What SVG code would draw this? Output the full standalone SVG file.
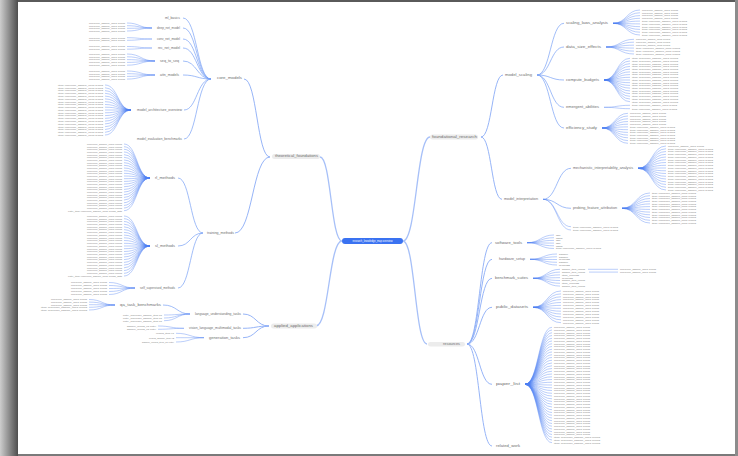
<svg xmlns="http://www.w3.org/2000/svg" xmlns:xlink="http://www.w3.org/1999/xlink" width="738" height="456" viewBox="0 0 738 456">
<style>
.lb{font-family:"Liberation Sans",Arial,sans-serif;font-size:2.6px;fill:#6e6e6e}
.lf{font-family:"Liberation Sans",Arial,sans-serif;font-size:2.4px;fill:#7c7c7c}
.e1{fill:none;stroke:#a7c0f8;stroke-width:1.3}
.e2{fill:none;stroke:#8aacf6;stroke-width:0.9}
.e3{fill:none;stroke:#79a0f5;stroke-width:0.7}
.fan{fill:none;stroke:#4b7ff3;stroke-width:0.45;stroke-opacity:0.85}
.pill{fill:#ececec}
</style>
<defs>
<linearGradient id="gl" x1="0" y1="0" x2="1" y2="0"><stop offset="0" stop-color="#cdcdcd"/><stop offset="1" stop-color="#4e4e4e"/></linearGradient>
<text id="L15" class="lf" y="0.85" text-anchor="end" textLength="18" lengthAdjust="spacingAndGlyphs">record_item v1</text>
<text id="L25" class="lf" y="0.85" text-anchor="end" textLength="25" lengthAdjust="spacingAndGlyphs">record_sample_item v2</text>
<text id="L29" class="lf" y="0.85" text-anchor="end" textLength="29" lengthAdjust="spacingAndGlyphs">sample_record_01 entry</text>
<text id="L32" class="lf" y="0.85" text-anchor="end" textLength="32" lengthAdjust="spacingAndGlyphs">sample_record_item_01 entry</text>
<text id="L35" class="lf" y="0.85" text-anchor="end" textLength="35" lengthAdjust="spacingAndGlyphs">reference_sample_0001 record</text>
<text id="L36" class="lf" y="0.85" text-anchor="end" textLength="36" lengthAdjust="spacingAndGlyphs">reference_sample_0001 record</text>
<text id="L39" class="lf" y="0.85" text-anchor="end" textLength="39" lengthAdjust="spacingAndGlyphs">entry_reference_sample_item 01</text>
<text id="L45" class="lf" y="0.85" text-anchor="end" textLength="45" lengthAdjust="spacingAndGlyphs">item: reference_sample_0001 record</text>
<text id="L46" class="lf" y="0.85" text-anchor="end" textLength="46" lengthAdjust="spacingAndGlyphs">item: reference_sample_0001 record</text>
<text id="L54" class="lf" y="0.85" text-anchor="end" textLength="54" lengthAdjust="spacingAndGlyphs">entry_item: reference_sample_0001 record_data</text>
<text id="R4" class="lf" y="0.85" textLength="4.5" lengthAdjust="spacingAndGlyphs">abc</text>
<text id="R6" class="lf" y="0.85" textLength="6.5" lengthAdjust="spacingAndGlyphs">abcd</text>
<text id="R9" class="lf" y="0.85" textLength="9" lengthAdjust="spacingAndGlyphs">sample</text>
<text id="R11" class="lf" y="0.85" textLength="11" lengthAdjust="spacingAndGlyphs">records</text>
<text id="R17" class="lf" y="0.85" textLength="17" lengthAdjust="spacingAndGlyphs">item_records</text>
<text id="R23" class="lf" y="0.85" textLength="23" lengthAdjust="spacingAndGlyphs">sample_item_record</text>
<text id="R34" class="lf" y="0.85" textLength="34" lengthAdjust="spacingAndGlyphs">reference_sample_0001 record</text>
<text id="R36" class="lf" y="0.85" textLength="36" lengthAdjust="spacingAndGlyphs">reference_sample_0001 record</text>
<text id="R44" class="lf" y="0.85" textLength="44" lengthAdjust="spacingAndGlyphs">item: reference_sample_0001 record</text>
<text id="R45" class="lf" y="0.85" textLength="45" lengthAdjust="spacingAndGlyphs">item: reference_sample_0001 record</text>
<text id="R46" class="lf" y="0.85" textLength="46" lengthAdjust="spacingAndGlyphs">item: reference_sample_0001 record</text>
</defs>

<rect x="0" y="0" width="738" height="456" fill="#7a7a7a"/>
<rect x="0" y="0" width="18" height="456" fill="url(#gl)"/>
<rect x="18" y="0" width="720" height="2.5" fill="#5a5a5a"/>
<rect x="735" y="0" width="3" height="456" fill="#8c8c8c"/>
<rect x="18" y="2" width="717" height="452" fill="#ffffff"/>

<g id="connectors">
<path class="e1" d="M342 241C331 241 331 157 320 157M342 241C329 241 329 326 316 326M403 241C416.5 241 416.5 137 430 137M403 241C415 241 415 344 427 344"/>
<path class="e2" d="M270 157C257 157 257 79 244 79M270 157C252.5 157 252.5 233 235 233M269 326C256 326 256 314 243 314M269 326C256 326 256 328.3 243 328.3M269 326C256 326 256 337.7 243 337.7M481 137C492 137 492 75 503 75M481 137C491.5 137 491.5 199.3 502 199.3M467 344C479.5 344 479.5 242.7 492 242.7M467 344C479.5 344 479.5 259.3 492 259.3M467 344C479.5 344 479.5 278.3 492 278.3M467 344C479.5 344 479.5 307.3 492 307.3M467 344C479.5 344 479.5 384.3 492 384.3M467 344C479.5 344 479.5 446 492 446"/>
<path class="e3" d="M211 79C197 79 197 18 183 18M211 79C197 79 197 28 183 28M211 79C197 79 197 39 183 39M211 79C197 79 197 48 183 48M211 79C197 79 197 61 183 61M211 79C197 79 197 75 183 75M211 79C197 79 197 110 184 110M211 79C197 79 197 139 184 139M203 233C190.5 233 190.5 178 178 178M203 233C190.5 233 190.5 246 178 246M203 233C190.5 233 190.5 288 178 288M190 314C177 314 177 305 163 305M537 75C550.5 75 550.5 23.3 564 23.3M537 75C550.5 75 550.5 47 564 47M537 75C550.5 75 550.5 80 564 80M537 75C550.5 75 550.5 107.3 564 107.3M537 75C550.5 75 550.5 128 564 128M543 199.3C557 199.3 557 168.3 571 168.3M543 199.3C557 199.3 557 208.3 571 208.3"/>
<path class="fan" d="M543 199.3C557 199.3 557 226.7 571 226.7M543 199.3C557 199.3 557 230 571 230M190 314C177 314 177 315 164 315M190 314C177 314 177 318 164 318M190 314C177 314 177 320.7 164 320.7"/>
<path class="fan" d="M152 28C139.5 28 139.5 23 127 23M152 28C139.5 28 139.5 25.7 127 25.7M152 28C139.5 28 139.5 28.3 127 28.3M152 28C139.5 28 139.5 31 127 31M152 39C139.5 39 139.5 37.7 127 37.7M152 39C139.5 39 139.5 40.3 127 40.3M152 48C139.5 48 139.5 46.5 127 46.5M152 48C139.5 48 139.5 49.2 127 49.2M155 61C141 61 141 54 127 54M155 61C141 61 141 56.8 127 56.8M155 61C141 61 141 59.6 127 59.6M155 61C141 61 141 62.4 127 62.4M155 61C141 61 141 65.2 127 65.2M155 75C141 75 141 71 127 71M155 75C141 75 141 73.7 127 73.7M155 75C141 75 141 76.4 127 76.4M155 75C141 75 141 79.1 127 79.1"/>
<path class="fan" d="M131 110C118 110 118 85 105 85M131 110C118 110 118 87.8 105 87.8M131 110C118 110 118 90.6 105 90.6M131 110C118 110 118 93.3 105 93.3M131 110C118 110 118 96.1 105 96.1M131 110C118 110 118 98.9 105 98.9M131 110C118 110 118 101.7 105 101.7M131 110C118 110 118 104.5 105 104.5M131 110C118 110 118 107.2 105 107.2M131 110C118 110 118 110 105 110M131 110C118 110 118 112.8 105 112.8M131 110C118 110 118 115.6 105 115.6M131 110C118 110 118 118.4 105 118.4M131 110C118 110 118 121.1 105 121.1M131 110C118 110 118 123.9 105 123.9M131 110C118 110 118 126.7 105 126.7M131 110C118 110 118 129.5 105 129.5M131 110C118 110 118 132.3 105 132.3M131 110C118 110 118 135 105 135"/>
<path class="fan" d="M150 178C137 178 137 144 124 144M150 178C137 178 137 146.7 124 146.7M150 178C137 178 137 149.3 124 149.3M150 178C137 178 137 152 124 152M150 178C137 178 137 154.7 124 154.7M150 178C137 178 137 157.3 124 157.3M150 178C137 178 137 160 124 160M150 178C137 178 137 162.7 124 162.7M150 178C137 178 137 165.3 124 165.3M150 178C137 178 137 168 124 168M150 178C137 178 137 170.7 124 170.7M150 178C137 178 137 173.3 124 173.3M150 178C137 178 137 176 124 176M150 178C137 178 137 178.7 124 178.7M150 178C137 178 137 181.4 124 181.4M150 178C137 178 137 184 124 184M150 178C137 178 137 186.7 124 186.7M150 178C137 178 137 189.4 124 189.4M150 178C137 178 137 192 124 192M150 178C137 178 137 194.7 124 194.7M150 178C137 178 137 197.4 124 197.4M150 178C137 178 137 200 124 200M150 178C137 178 137 202.7 124 202.7M150 178C137 178 137 205.4 124 205.4M150 178C137 178 137 208 124 208M150 178C137 178 137 210.7 124 210.7"/>
<path class="fan" d="M150 246C137 246 137 216 124 216M150 246C137 246 137 218.7 124 218.7M150 246C137 246 137 221.5 124 221.5M150 246C137 246 137 224.2 124 224.2M150 246C137 246 137 226.9 124 226.9M150 246C137 246 137 229.6 124 229.6M150 246C137 246 137 232.4 124 232.4M150 246C137 246 137 235.1 124 235.1M150 246C137 246 137 237.8 124 237.8M150 246C137 246 137 240.5 124 240.5M150 246C137 246 137 243.3 124 243.3M150 246C137 246 137 246 124 246M150 246C137 246 137 248.7 124 248.7M150 246C137 246 137 251.5 124 251.5M150 246C137 246 137 254.2 124 254.2M150 246C137 246 137 256.9 124 256.9M150 246C137 246 137 259.6 124 259.6M150 246C137 246 137 262.4 124 262.4M150 246C137 246 137 265.1 124 265.1M150 246C137 246 137 267.8 124 267.8M150 246C137 246 137 270.5 124 270.5M150 246C137 246 137 273.3 124 273.3M150 246C137 246 137 276 124 276"/>
<path class="fan" d="M135 288C122 288 122 282.5 109 282.5M135 288C122 288 122 285.5 109 285.5M135 288C122 288 122 288.5 109 288.5M135 288C122 288 122 291.5 109 291.5M135 288C122 288 122 294.5 109 294.5M115 305C102 305 102 299.5 89 299.5M115 305C102 305 102 302.1 89 302.1M115 305C102 305 102 304.7 89 304.7M115 305C102 305 102 307.3 89 307.3M115 305C102 305 102 310 89 310M184 328.3C171 328.3 171 326 158 326M184 328.3C171 328.3 171 329.3 158 329.3M204 337.7C190 337.7 190 333.3 176 333.3M204 337.7C190 337.7 190 337.7 176 337.7M204 337.7C190 337.7 190 342 176 342"/>
<path class="fan" d="M613 23.3C626.5 23.3 626.5 10 640 10M613 23.3C626.5 23.3 626.5 12.8 640 12.8M613 23.3C626.5 23.3 626.5 15.6 640 15.6M613 23.3C626.5 23.3 626.5 18.3 640 18.3M613 23.3C626.5 23.3 626.5 21.1 640 21.1M613 23.3C626.5 23.3 626.5 23.9 640 23.9M613 23.3C626.5 23.3 626.5 26.7 640 26.7M613 23.3C626.5 23.3 626.5 29.4 640 29.4M613 23.3C626.5 23.3 626.5 32.2 640 32.2M613 23.3C626.5 23.3 626.5 35 640 35M606 47C620 47 620 39.3 634 39.3M606 47C620 47 620 42.2 634 42.2M606 47C620 47 620 45.2 634 45.2M606 47C620 47 620 48.1 634 48.1M606 47C620 47 620 51.1 634 51.1M606 47C620 47 620 54 634 54"/>
<path class="fan" d="M604 80C617 80 617 58.3 630 58.3M604 80C617 80 617 61 630 61M604 80C617 80 617 63.7 630 63.7M604 80C617 80 617 66.4 630 66.4M604 80C617 80 617 69.2 630 69.2M604 80C617 80 617 71.9 630 71.9M604 80C617 80 617 74.6 630 74.6M604 80C617 80 617 77.3 630 77.3M604 80C617 80 617 80 630 80M604 80C617 80 617 82.7 630 82.7M604 80C617 80 617 85.4 630 85.4M604 80C617 80 617 88.1 630 88.1M604 80C617 80 617 90.9 630 90.9M604 80C617 80 617 93.6 630 93.6M604 80C617 80 617 96.3 630 96.3M604 80C617 80 617 99 630 99M604 80C617 80 617 101.7 630 101.7M604 107.3C617 107.3 617 105.3 630 105.3M604 107.3C617 107.3 617 108.7 630 108.7"/>
<path class="fan" d="M602 128C615 128 615 113.3 628 113.3M602 128C615 128 615 116 628 116M602 128C615 128 615 118.8 628 118.8M602 128C615 128 615 121.5 628 121.5M602 128C615 128 615 124.2 628 124.2M602 128C615 128 615 126.9 628 126.9M602 128C615 128 615 129.7 628 129.7M602 128C615 128 615 132.4 628 132.4M602 128C615 128 615 135.1 628 135.1M602 128C615 128 615 137.8 628 137.8M602 128C615 128 615 140.6 628 140.6M602 128C615 128 615 143.3 628 143.3"/>
<path class="fan" d="M638 168.3C652 168.3 652 146 666 146M638 168.3C652 168.3 652 148.8 666 148.8M638 168.3C652 168.3 652 151.5 666 151.5M638 168.3C652 168.3 652 154.3 666 154.3M638 168.3C652 168.3 652 157 666 157M638 168.3C652 168.3 652 159.8 666 159.8M638 168.3C652 168.3 652 162.5 666 162.5M638 168.3C652 168.3 652 165.3 666 165.3M638 168.3C652 168.3 652 168 666 168M638 168.3C652 168.3 652 170.8 666 170.8M638 168.3C652 168.3 652 173.5 666 173.5M638 168.3C652 168.3 652 176.3 666 176.3M638 168.3C652 168.3 652 179 666 179M638 168.3C652 168.3 652 181.8 666 181.8M638 168.3C652 168.3 652 184.5 666 184.5M638 168.3C652 168.3 652 187.3 666 187.3M638 168.3C652 168.3 652 190 666 190"/>
<path class="fan" d="M622 208.3C636 208.3 636 193 650 193M622 208.3C636 208.3 636 195.7 650 195.7M622 208.3C636 208.3 636 198.5 650 198.5M622 208.3C636 208.3 636 201.2 650 201.2M622 208.3C636 208.3 636 203.9 650 203.9M622 208.3C636 208.3 636 206.6 650 206.6M622 208.3C636 208.3 636 209.4 650 209.4M622 208.3C636 208.3 636 212.1 650 212.1M622 208.3C636 208.3 636 214.8 650 214.8M622 208.3C636 208.3 636 217.5 650 217.5M622 208.3C636 208.3 636 220.3 650 220.3M622 208.3C636 208.3 636 223 650 223"/>
<path class="fan" d="M527 242.7C540.5 242.7 540.5 235 554 235M527 242.7C540.5 242.7 540.5 237.7 554 237.7M527 242.7C540.5 242.7 540.5 240.4 554 240.4M527 242.7C540.5 242.7 540.5 243.1 554 243.1M527 242.7C540.5 242.7 540.5 245.8 554 245.8M527 242.7C540.5 242.7 540.5 248.5 554 248.5M530 259.3C543.5 259.3 543.5 254 557 254M530 259.3C543.5 259.3 543.5 256.8 557 256.8M530 259.3C543.5 259.3 543.5 259.5 557 259.5M530 259.3C543.5 259.3 543.5 262.3 557 262.3M530 259.3C543.5 259.3 543.5 265 557 265M533 278.3C546.5 278.3 546.5 269.3 560 269.3M533 278.3C546.5 278.3 546.5 272.1 560 272.1M533 278.3C546.5 278.3 546.5 274.9 560 274.9M533 278.3C546.5 278.3 546.5 277.7 560 277.7M533 278.3C546.5 278.3 546.5 280.5 560 280.5M533 278.3C546.5 278.3 546.5 283.3 560 283.3M533 278.3C546.5 278.3 546.5 286.1 560 286.1M588 269.3H618M589 272.1H618"/>
<path class="fan" d="M533 307.3C547 307.3 547 291 561 291M533 307.3C547 307.3 547 293.9 561 293.9M533 307.3C547 307.3 547 296.8 561 296.8M533 307.3C547 307.3 547 299.6 561 299.6M533 307.3C547 307.3 547 302.5 561 302.5M533 307.3C547 307.3 547 305.4 561 305.4M533 307.3C547 307.3 547 308.3 561 308.3M533 307.3C547 307.3 547 311.2 561 311.2M533 307.3C547 307.3 547 314 561 314M533 307.3C547 307.3 547 316.9 561 316.9M533 307.3C547 307.3 547 319.8 561 319.8M533 307.3C547 307.3 547 322.7 561 322.7"/>
<path class="fan" d="M525 384.3C538.5 384.3 538.5 327.3 552 327.3M525 384.3C538.5 384.3 538.5 330 552 330M525 384.3C538.5 384.3 538.5 332.8 552 332.8M525 384.3C538.5 384.3 538.5 335.5 552 335.5M525 384.3C538.5 384.3 538.5 338.3 552 338.3M525 384.3C538.5 384.3 538.5 341 552 341M525 384.3C538.5 384.3 538.5 343.8 552 343.8M525 384.3C538.5 384.3 538.5 346.5 552 346.5M525 384.3C538.5 384.3 538.5 349.3 552 349.3M525 384.3C538.5 384.3 538.5 352 552 352M525 384.3C538.5 384.3 538.5 354.8 552 354.8M525 384.3C538.5 384.3 538.5 357.5 552 357.5M525 384.3C538.5 384.3 538.5 360.3 552 360.3M525 384.3C538.5 384.3 538.5 363 552 363M525 384.3C538.5 384.3 538.5 365.8 552 365.8M525 384.3C538.5 384.3 538.5 368.5 552 368.5M525 384.3C538.5 384.3 538.5 371.3 552 371.3M525 384.3C538.5 384.3 538.5 374 552 374M525 384.3C538.5 384.3 538.5 376.8 552 376.8M525 384.3C538.5 384.3 538.5 379.5 552 379.5M525 384.3C538.5 384.3 538.5 382.3 552 382.3M525 384.3C538.5 384.3 538.5 385 552 385M525 384.3C538.5 384.3 538.5 387.8 552 387.8M525 384.3C538.5 384.3 538.5 390.5 552 390.5M525 384.3C538.5 384.3 538.5 393.3 552 393.3M525 384.3C538.5 384.3 538.5 396 552 396M525 384.3C538.5 384.3 538.5 398.8 552 398.8M525 384.3C538.5 384.3 538.5 401.5 552 401.5M525 384.3C538.5 384.3 538.5 404.2 552 404.2M525 384.3C538.5 384.3 538.5 407 552 407M525 384.3C538.5 384.3 538.5 409.7 552 409.7M525 384.3C538.5 384.3 538.5 412.5 552 412.5M525 384.3C538.5 384.3 538.5 415.2 552 415.2M525 384.3C538.5 384.3 538.5 418 552 418M525 384.3C538.5 384.3 538.5 420.7 552 420.7M525 384.3C538.5 384.3 538.5 423.5 552 423.5M525 384.3C538.5 384.3 538.5 426.2 552 426.2M525 384.3C538.5 384.3 538.5 429 552 429M525 384.3C538.5 384.3 538.5 431.7 552 431.7M525 384.3C538.5 384.3 538.5 434.5 552 434.5M525 384.3C538.5 384.3 538.5 437.2 552 437.2M525 384.3C538.5 384.3 538.5 440 552 440M525 384.3C538.5 384.3 538.5 442.7 552 442.7"/>
</g>

<g id="root">
<rect x="342" y="238" width="61" height="6" rx="3" fill="#3a72f1"/>
<text x="372.5" y="242" font-family="Liberation Sans, Arial, sans-serif" font-size="3" fill="#ffffff" text-anchor="middle" textLength="40" lengthAdjust="spacingAndGlyphs">research_knowledge_map overview</text>
</g>

<g id="n-l1"><rect class="pill" x="272" y="154" width="48" height="5" rx="2.5"/><text class="lb" x="318" y="157" text-anchor="end" textLength="43" lengthAdjust="spacingAndGlyphs">theoretical_foundations</text></g>
<g id="n-a"><text class="lb" x="242" y="79" text-anchor="end" textLength="25" lengthAdjust="spacingAndGlyphs">core_models</text></g>
<g id="n-a1"><text class="lb" x="180" y="19" text-anchor="end" textLength="15" lengthAdjust="spacingAndGlyphs">ml_basics</text></g>
<g id="n-a2"><text class="lb" x="180" y="29" text-anchor="end" textLength="23" lengthAdjust="spacingAndGlyphs">deep_net_model</text>
<use href="#L36" x="125" y="23"/><use href="#L36" x="125" y="25.7"/><use href="#L36" x="125" y="28.3"/><use href="#L36" x="125" y="31"/></g>
<g id="n-a3"><text class="lb" x="180" y="40" text-anchor="end" textLength="23" lengthAdjust="spacingAndGlyphs">conv_net_model</text>
<use href="#L36" x="125" y="37.7"/><use href="#L36" x="125" y="40.3"/></g>
<g id="n-a4"><text class="lb" x="180" y="49" text-anchor="end" textLength="22" lengthAdjust="spacingAndGlyphs">rec_net_model</text>
<use href="#L36" x="125" y="46.5"/><use href="#L36" x="125" y="49.2"/></g>
<g id="n-a5"><text class="lb" x="179" y="62" text-anchor="end" textLength="19" lengthAdjust="spacingAndGlyphs">seq_to_seq</text>
<use href="#L36" x="125" y="54"/><use href="#L36" x="125" y="56.8"/><use href="#L36" x="125" y="59.6"/><use href="#L36" x="125" y="62.4"/><use href="#L36" x="125" y="65.2"/></g>
<g id="n-a6"><text class="lb" x="179" y="76" text-anchor="end" textLength="19" lengthAdjust="spacingAndGlyphs">attn_models</text>
<use href="#L36" x="125" y="71"/><use href="#L36" x="125" y="73.7"/><use href="#L36" x="125" y="76.4"/><use href="#L36" x="125" y="79.1"/></g>
<g id="n-a7"><text class="lb" x="182" y="111" text-anchor="end" textLength="45" lengthAdjust="spacingAndGlyphs">model_architecture_overview</text>
<use href="#L45" x="103" y="85"/><use href="#L45" x="103" y="87.8"/><use href="#L45" x="103" y="90.6"/><use href="#L45" x="103" y="93.3"/><use href="#L45" x="103" y="96.1"/><use href="#L45" x="103" y="98.9"/><use href="#L45" x="103" y="101.7"/><use href="#L45" x="103" y="104.5"/><use href="#L45" x="103" y="107.2"/><use href="#L45" x="103" y="110"/><use href="#L45" x="103" y="112.8"/><use href="#L45" x="103" y="115.6"/><use href="#L45" x="103" y="118.4"/><use href="#L45" x="103" y="121.1"/><use href="#L45" x="103" y="123.9"/><use href="#L45" x="103" y="126.7"/><use href="#L45" x="103" y="129.5"/><use href="#L45" x="103" y="132.3"/><use href="#L45" x="103" y="135"/></g>
<g id="n-a8"><text class="lb" x="182" y="140" text-anchor="end" textLength="45" lengthAdjust="spacingAndGlyphs">model_evaluation_benchmarks</text></g>

<g id="n-b"><text class="lb" x="234" y="234" text-anchor="end" textLength="27" lengthAdjust="spacingAndGlyphs">training_methods</text></g>
<g id="n-b1"><text class="lb" x="175" y="179" text-anchor="end" textLength="20" lengthAdjust="spacingAndGlyphs">rl_methods</text>
<use href="#L35" x="122" y="144"/><use href="#L35" x="122" y="146.7"/><use href="#L35" x="122" y="149.3"/><use href="#L35" x="122" y="152"/><use href="#L35" x="122" y="154.7"/><use href="#L35" x="122" y="157.3"/><use href="#L35" x="122" y="160"/><use href="#L35" x="122" y="162.7"/><use href="#L35" x="122" y="165.3"/><use href="#L35" x="122" y="168"/><use href="#L35" x="122" y="170.7"/><use href="#L35" x="122" y="173.3"/><use href="#L35" x="122" y="176"/><use href="#L35" x="122" y="178.7"/><use href="#L35" x="122" y="181.4"/><use href="#L35" x="122" y="184"/><use href="#L35" x="122" y="186.7"/><use href="#L35" x="122" y="189.4"/><use href="#L35" x="122" y="192"/><use href="#L35" x="122" y="194.7"/><use href="#L35" x="122" y="197.4"/><use href="#L35" x="122" y="200"/><use href="#L35" x="122" y="202.7"/><use href="#L35" x="122" y="205.4"/><use href="#L35" x="122" y="208"/><use href="#L54" x="122" y="210.7"/></g>
<g id="n-b2"><text class="lb" x="175" y="247" text-anchor="end" textLength="20" lengthAdjust="spacingAndGlyphs">sl_methods</text>
<use href="#L35" x="122" y="216"/><use href="#L35" x="122" y="218.7"/><use href="#L35" x="122" y="221.5"/><use href="#L35" x="122" y="224.2"/><use href="#L35" x="122" y="226.9"/><use href="#L35" x="122" y="229.6"/><use href="#L35" x="122" y="232.4"/><use href="#L35" x="122" y="235.1"/><use href="#L35" x="122" y="237.8"/><use href="#L35" x="122" y="240.5"/><use href="#L35" x="122" y="243.3"/><use href="#L35" x="122" y="246"/><use href="#L35" x="122" y="248.7"/><use href="#L35" x="122" y="251.5"/><use href="#L35" x="122" y="254.2"/><use href="#L35" x="122" y="256.9"/><use href="#L35" x="122" y="259.6"/><use href="#L35" x="122" y="262.4"/><use href="#L35" x="122" y="265.1"/><use href="#L35" x="122" y="267.8"/><use href="#L35" x="122" y="270.5"/><use href="#L35" x="122" y="273.3"/><use href="#L54" x="122" y="276"/></g>
<g id="n-b3"><text class="lb" x="175" y="289" text-anchor="end" textLength="35" lengthAdjust="spacingAndGlyphs">self_supervised_methods</text>
<use href="#L36" x="107" y="282.5"/><use href="#L36" x="107" y="285.5"/><use href="#L36" x="107" y="288.5"/><use href="#L36" x="107" y="291.5"/><use href="#L36" x="107" y="294.5"/></g>

<g id="n-l3"><rect class="pill" x="271" y="323.5" width="46" height="5" rx="2.5"/><text class="lb" x="313" y="327" text-anchor="end" textLength="39" lengthAdjust="spacingAndGlyphs">applied_applications</text></g>
<g id="n-c1"><text class="lb" x="241" y="315" text-anchor="end" textLength="46" lengthAdjust="spacingAndGlyphs">language_understanding_tasks</text>
<use href="#L39" x="162" y="315"/><use href="#L39" x="162" y="318"/><use href="#L39" x="162" y="320.7"/></g>
<g id="n-c1a"><text class="lb" x="161" y="306" text-anchor="end" textLength="41" lengthAdjust="spacingAndGlyphs">qa_task_benchmarks</text>
<use href="#L36" x="87" y="299.5"/><use href="#L36" x="87" y="302.1"/><use href="#L36" x="87" y="304.7"/><use href="#L46" x="87" y="307.3"/><use href="#L46" x="87" y="310"/></g>
<g id="n-c2"><text class="lb" x="241" y="329.3" text-anchor="end" textLength="52" lengthAdjust="spacingAndGlyphs">vision_language_multimodal_tasks</text>
<use href="#L29" x="156" y="326"/><use href="#L29" x="156" y="329.3"/></g>
<g id="n-c3"><text class="lb" x="240" y="338.7" text-anchor="end" textLength="31" lengthAdjust="spacingAndGlyphs">generation_tasks</text>
<use href="#L15" x="174" y="333.3"/><use href="#L25" x="174" y="337.7"/><use href="#L32" x="174" y="342"/></g>

<g id="n-r1"><rect class="pill" x="430" y="134.5" width="48" height="5" rx="2.5"/><text class="lb" x="432" y="138" textLength="45" lengthAdjust="spacingAndGlyphs">foundational_research</text></g>
<g id="n-r1a"><text class="lb" x="505" y="76" textLength="27" lengthAdjust="spacingAndGlyphs">model_scaling</text></g>
<g id="n-r1a1"><text class="lb" x="566" y="24.3" textLength="42" lengthAdjust="spacingAndGlyphs">scaling_laws_analysis</text>
<use href="#R36" x="642" y="10"/><use href="#R36" x="642" y="12.8"/><use href="#R36" x="642" y="15.6"/><use href="#R36" x="642" y="18.3"/><use href="#R45" x="642" y="21.1"/><use href="#R45" x="642" y="23.9"/><use href="#R45" x="642" y="26.7"/><use href="#R45" x="642" y="29.4"/><use href="#R45" x="642" y="32.2"/><use href="#R45" x="642" y="35"/></g>
<g id="n-r1a2"><text class="lb" x="566" y="48" textLength="35" lengthAdjust="spacingAndGlyphs">data_size_effects</text>
<use href="#R34" x="636" y="39.3"/><use href="#R34" x="636" y="42.2"/><use href="#R34" x="636" y="45.2"/><use href="#R44" x="636" y="48.1"/><use href="#R44" x="636" y="51.1"/><use href="#R44" x="636" y="54"/></g>
<g id="n-r1a3"><text class="lb" x="566" y="81" textLength="33" lengthAdjust="spacingAndGlyphs">compute_budgets</text>
<use href="#R46" x="632" y="58.3"/><use href="#R46" x="632" y="61"/><use href="#R46" x="632" y="63.7"/><use href="#R46" x="632" y="66.4"/><use href="#R46" x="632" y="69.2"/><use href="#R46" x="632" y="71.9"/><use href="#R46" x="632" y="74.6"/><use href="#R46" x="632" y="77.3"/><use href="#R46" x="632" y="80"/><use href="#R46" x="632" y="82.7"/><use href="#R46" x="632" y="85.4"/><use href="#R46" x="632" y="88.1"/><use href="#R46" x="632" y="90.9"/><use href="#R46" x="632" y="93.6"/><use href="#R46" x="632" y="96.3"/><use href="#R46" x="632" y="99"/><use href="#R46" x="632" y="101.7"/></g>
<g id="n-r1a4"><text class="lb" x="566" y="108.3" textLength="33" lengthAdjust="spacingAndGlyphs">emergent_abilities</text>
<use href="#R45" x="632" y="105.3"/><use href="#R45" x="632" y="108.7"/></g>
<g id="n-r1a5"><text class="lb" x="566" y="129" textLength="31" lengthAdjust="spacingAndGlyphs">efficiency_study</text>
<use href="#R36" x="630" y="113.3"/><use href="#R36" x="630" y="116"/><use href="#R36" x="630" y="118.8"/><use href="#R36" x="630" y="121.5"/><use href="#R36" x="630" y="124.2"/><use href="#R45" x="630" y="126.9"/><use href="#R45" x="630" y="129.7"/><use href="#R45" x="630" y="132.4"/><use href="#R45" x="630" y="135.1"/><use href="#R45" x="630" y="137.8"/><use href="#R45" x="630" y="140.6"/><use href="#R45" x="630" y="143.3"/></g>
<g id="n-r1b"><text class="lb" x="504" y="200.3" textLength="34" lengthAdjust="spacingAndGlyphs">model_interpretation</text></g>
<g id="n-r1b1"><text class="lb" x="573" y="169.3" textLength="60" lengthAdjust="spacingAndGlyphs">mechanistic_interpretability_analysis</text>
<use href="#R36" x="668" y="146"/><use href="#R45" x="668" y="148.8"/><use href="#R45" x="668" y="151.5"/><use href="#R45" x="668" y="154.3"/><use href="#R45" x="668" y="157"/><use href="#R45" x="668" y="159.8"/><use href="#R45" x="668" y="162.5"/><use href="#R45" x="668" y="165.3"/><use href="#R45" x="668" y="168"/><use href="#R45" x="668" y="170.8"/><use href="#R45" x="668" y="173.5"/><use href="#R45" x="668" y="176.3"/><use href="#R45" x="668" y="179"/><use href="#R45" x="668" y="181.8"/><use href="#R45" x="668" y="184.5"/><use href="#R45" x="668" y="187.3"/><use href="#R45" x="668" y="190"/></g>
<g id="n-r1b2"><text class="lb" x="573" y="209.3" textLength="44" lengthAdjust="spacingAndGlyphs">probing_feature_attribution</text>
<use href="#R44" x="652" y="193"/><use href="#R44" x="652" y="195.7"/><use href="#R44" x="652" y="198.5"/><use href="#R44" x="652" y="201.2"/><use href="#R44" x="652" y="203.9"/><use href="#R44" x="652" y="206.6"/><use href="#R44" x="652" y="209.4"/><use href="#R44" x="652" y="212.1"/><use href="#R44" x="652" y="214.8"/><use href="#R44" x="652" y="217.5"/><use href="#R44" x="652" y="220.3"/><use href="#R44" x="652" y="223"/></g>
<g id="n-r1b3"><use href="#R45" x="573" y="226.7"/><use href="#R45" x="573" y="230"/></g>

<g id="n-r2"><rect class="pill" x="428" y="342" width="37" height="4.5" rx="2.2"/><text class="lb" x="443" y="345" textLength="17" lengthAdjust="spacingAndGlyphs">resources</text></g>
<g id="n-r2a"><text class="lb" x="495" y="243.7" textLength="27" lengthAdjust="spacingAndGlyphs">software_tools</text>
<use href="#R4" x="556" y="235"/><use href="#R6" x="556" y="237.7"/><use href="#R4" x="556" y="240.4"/><use href="#R4" x="556" y="243.1"/><use href="#R6" x="556" y="245.8"/><use href="#R45" x="556" y="248.5"/></g>
<g id="n-r2b"><text class="lb" x="499" y="260.3" textLength="26" lengthAdjust="spacingAndGlyphs">hardware_setup</text>
<use href="#R9" x="559" y="254"/><use href="#R9" x="559" y="256.8"/><use href="#R11" x="559" y="259.5"/><use href="#R9" x="559" y="262.3"/><use href="#R11" x="559" y="265"/></g>
<g id="n-r2c"><text class="lb" x="495" y="279.3" textLength="33" lengthAdjust="spacingAndGlyphs">benchmark_suites</text>
<use href="#R23" x="562" y="269.3"/><use href="#R23" x="562" y="272.1"/><use href="#R17" x="562" y="274.9"/><use href="#R11" x="562" y="277.7"/><use href="#R23" x="562" y="280.5"/><use href="#R17" x="562" y="283.3"/><use href="#R23" x="562" y="286.1"/>
<use href="#R36" x="620" y="269.3"/><use href="#R36" x="620" y="272.1"/></g>
<g id="n-r2d"><text class="lb" x="496" y="308.3" textLength="32" lengthAdjust="spacingAndGlyphs">public_datasets</text>
<use href="#R36" x="563" y="291"/><use href="#R36" x="563" y="293.9"/><use href="#R36" x="563" y="296.8"/><use href="#R36" x="563" y="299.6"/><use href="#R36" x="563" y="302.5"/><use href="#R36" x="563" y="305.4"/><use href="#R36" x="563" y="308.3"/><use href="#R36" x="563" y="311.2"/><use href="#R36" x="563" y="314"/><use href="#R36" x="563" y="316.9"/><use href="#R36" x="563" y="319.8"/><use href="#R36" x="563" y="322.7"/></g>
<g id="n-r2e"><text class="lb" x="496" y="385.3" textLength="24" lengthAdjust="spacingAndGlyphs">paper_list</text>
<use href="#R36" x="554" y="327.3"/><use href="#R36" x="554" y="330"/><use href="#R36" x="554" y="332.8"/><use href="#R36" x="554" y="335.5"/><use href="#R36" x="554" y="338.3"/><use href="#R36" x="554" y="341"/><use href="#R36" x="554" y="343.8"/><use href="#R36" x="554" y="346.5"/><use href="#R36" x="554" y="349.3"/><use href="#R36" x="554" y="352"/><use href="#R36" x="554" y="354.8"/><use href="#R36" x="554" y="357.5"/><use href="#R36" x="554" y="360.3"/><use href="#R36" x="554" y="363"/><use href="#R36" x="554" y="365.8"/><use href="#R36" x="554" y="368.5"/><use href="#R36" x="554" y="371.3"/><use href="#R36" x="554" y="374"/><use href="#R36" x="554" y="376.8"/><use href="#R36" x="554" y="379.5"/><use href="#R36" x="554" y="382.3"/><use href="#R36" x="554" y="385"/><use href="#R36" x="554" y="387.8"/><use href="#R36" x="554" y="390.5"/><use href="#R36" x="554" y="393.3"/><use href="#R36" x="554" y="396"/><use href="#R36" x="554" y="398.8"/><use href="#R36" x="554" y="401.5"/><use href="#R36" x="554" y="404.2"/><use href="#R36" x="554" y="407"/><use href="#R36" x="554" y="409.7"/><use href="#R36" x="554" y="412.5"/><use href="#R36" x="554" y="415.2"/><use href="#R36" x="554" y="418"/><use href="#R36" x="554" y="420.7"/><use href="#R36" x="554" y="423.5"/><use href="#R36" x="554" y="426.2"/><use href="#R36" x="554" y="429"/><use href="#R36" x="554" y="431.7"/><use href="#R36" x="554" y="434.5"/><use href="#R46" x="554" y="437.2"/><use href="#R46" x="554" y="440"/><use href="#R46" x="554" y="442.7"/></g>
<g id="n-r2f"><text class="lb" x="496" y="447" textLength="24" lengthAdjust="spacingAndGlyphs">related_work</text></g>
</svg>
